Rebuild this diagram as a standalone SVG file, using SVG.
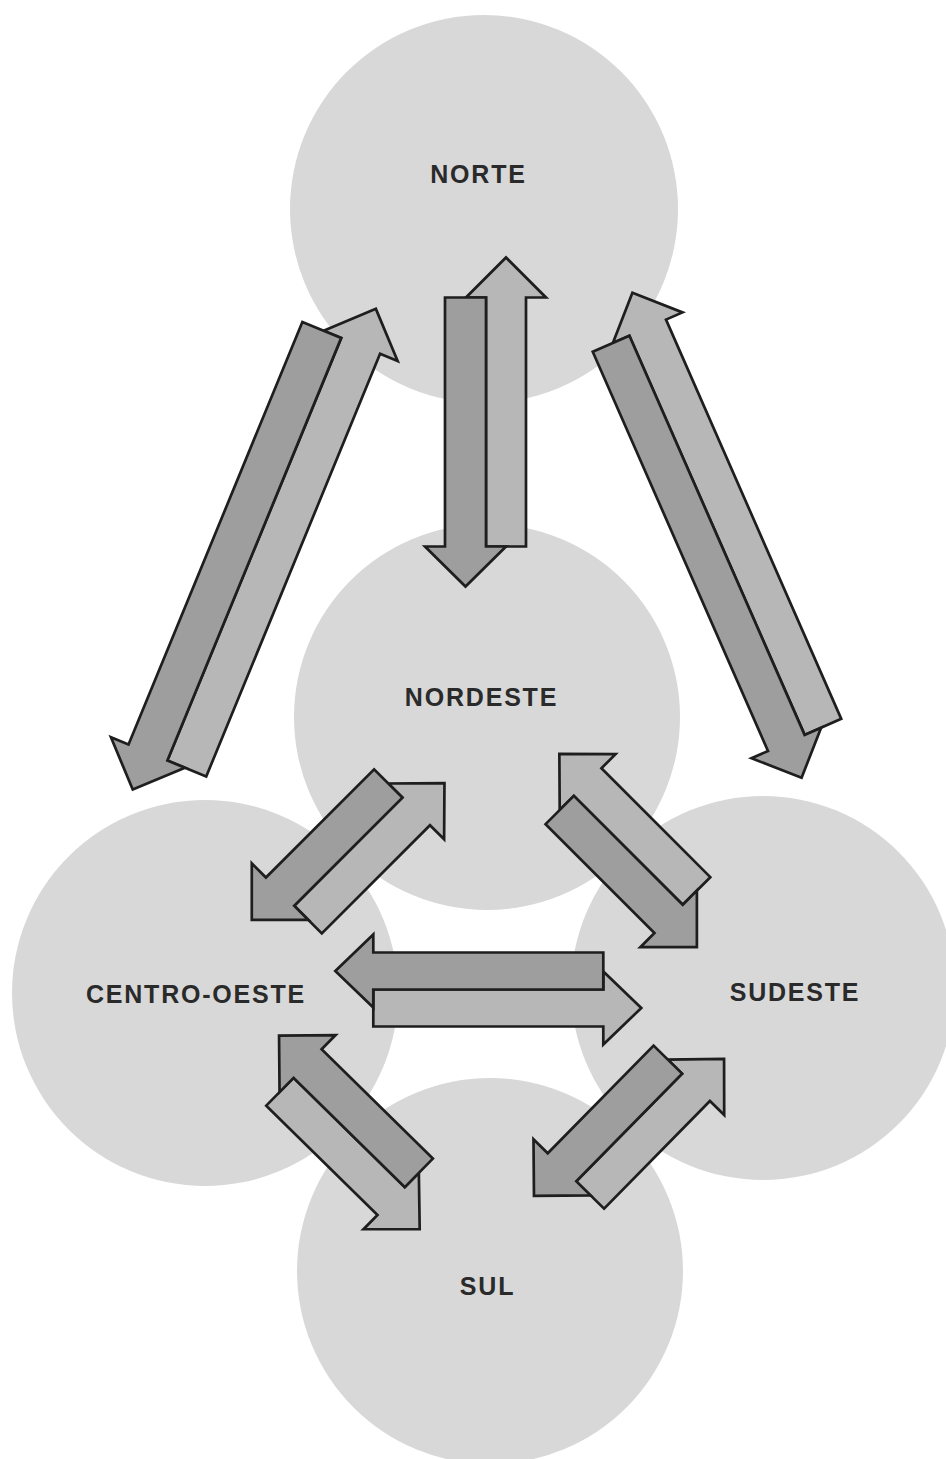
<svg xmlns="http://www.w3.org/2000/svg" width="946" height="1459" viewBox="0 0 946 1459">
<style>
.region{fill:#d8d8d8}
.label{font-family:"Liberation Sans",Arial,Helvetica,sans-serif;font-weight:bold;font-size:25px;letter-spacing:1.8px;fill:#2a2a2a;text-anchor:middle}
.dark{fill:#9e9e9e;stroke:#1e1e1e;stroke-width:2.7;stroke-linejoin:miter}
.light{fill:#b7b7b7;stroke:#1e1e1e;stroke-width:2.7;stroke-linejoin:miter}
</style>
<rect width="946" height="1459" fill="#ffffff"/>
<g id="nodes">
<g id="norte"><circle class="region" cx="484" cy="209" r="194"/><text class="label" x="478.5" y="183">NORTE</text></g>
<g id="nordeste"><circle class="region" cx="487" cy="717" r="193"/><text class="label" x="481.5" y="706">NORDESTE</text></g>
<g id="centro-oeste"><circle class="region" cx="205" cy="993" r="193"/><text class="label" x="196" y="1003">CENTRO-OESTE</text></g>
<g id="sudeste"><circle class="region" cx="763" cy="988" r="192"/><text class="label" x="795" y="1001">SUDESTE</text></g>
<g id="sul"><circle class="region" cx="490" cy="1271" r="193"/><text class="label" x="487.5" y="1295">SUL</text></g>
</g>
<g id="connectors">
<g id="norte-nordeste" transform="translate(486,422) rotate(90)">
<polygon class="light" points="124.5,0 124.5,-40 -124.5,-40 -124.5,-60 -164.5,-20 -124.5,20 -124.5,0"/>
<polygon class="dark" points="-124.5,0 124.5,0 124.5,-20 164.5,20.5 124.5,61 124.5,41 -124.5,41"/>
</g>
<g id="norte-centro-oeste" transform="translate(254.3,549.2) rotate(112.36)">
<polygon class="light" points="228.5,0 228.5,-42 -228.5,-42 -228.5,-61 -268.5,-21 -228.5,19 -228.5,0"/>
<polygon class="dark" points="-228.5,0 228.5,0 228.5,-19 268.5,21 228.5,61 228.5,42 -228.5,42"/>
</g>
<g id="norte-sudeste" transform="translate(717,535.3) rotate(66.3)">
<polygon class="light" points="218,0 218,-40 -218,-40 -218,-58 -256,-20 -218,18 -218,0"/>
<polygon class="dark" points="-218,0 218,0 218,-18 256,20 218,58 218,40 -218,40"/>
</g>
<g id="nordeste-centro-oeste" transform="translate(348.3,851.7) rotate(135)">
<polygon class="light" points="76.5,0 76.5,-39 -76.5,-39 -76.5,-59 -116.5,-19.5 -76.5,20 -76.5,0"/>
<polygon class="dark" points="-76.5,0 76.5,0 76.5,-20 116.5,20 76.5,60 76.5,40 -76.5,40"/>
</g>
<g id="nordeste-sudeste" transform="translate(628.3,850.3) rotate(45)">
<polygon class="light" points="77,0 77,-39 -77,-39 -77,-59 -117,-19.5 -77,20 -77,0"/>
<polygon class="dark" points="-77,0 77,0 77,-20 117,20 77,60 77,40 -77,40"/>
</g>
<g id="centro-oeste-sudeste" transform="translate(488.3,989.5) rotate(180)">
<polygon class="light" points="115,0 115,-37 -115,-37 -115,-55 -153,-18.5 -115,18 -115,0"/>
<polygon class="dark" points="-115,0 115,0 115,-18 153,18.5 115,55 115,37 -115,37"/>
</g>
<g id="centro-oeste-sul" transform="translate(349.2,1132.5) rotate(224.5)">
<polygon class="light" points="78,0 78,-39 -78,-39 -78,-59 -118,-19.5 -78,20 -78,0"/>
<polygon class="dark" points="-78,0 78,0 78,-20 118,20 78,60 78,40 -78,40"/>
</g>
<g id="sul-sudeste" transform="translate(629.2,1127.5) rotate(134.5)">
<polygon class="light" points="75.5,0 75.5,-39 -75.5,-39 -75.5,-59 -115.5,-19.5 -75.5,20 -75.5,0"/>
<polygon class="dark" points="-75.5,0 75.5,0 75.5,-20 115.5,20 75.5,60 75.5,40 -75.5,40"/>
</g>
</g>
</svg>
